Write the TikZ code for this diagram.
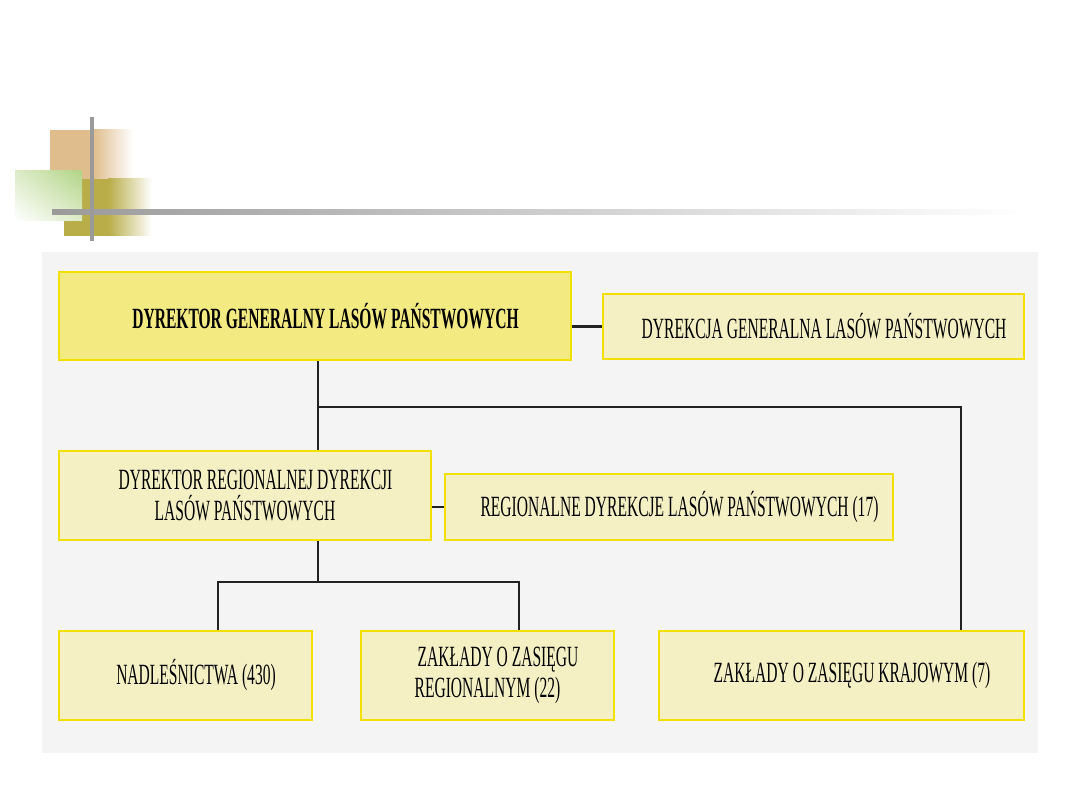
\documentclass[tikz,border=0pt]{standalone}
\usepackage{fontspec}
\newfontfamily\boxfont[FakeStretch=0.53]{Liberation Serif}
\usepackage{tikz}
\usetikzlibrary{positioning, shadings}

\definecolor{panelgray}{HTML}{F4F4F4}
\definecolor{boxyellow}{HTML}{F4EA82}
\definecolor{boxpale}{HTML}{F5F0C4}
\definecolor{boxedge}{HTML}{F2E000}
\definecolor{decotan}{HTML}{DFBD8C}
\definecolor{decogreen}{HTML}{B2D486}
\definecolor{decoolive}{HTML}{B8AD48}
\definecolor{decogray}{HTML}{9A9A9A}
\definecolor{linkgray}{HTML}{222222}

\begin{document}
\begin{tikzpicture}[x=0.01cm, y=-0.01cm,
    orgbox/.style={draw=boxedge, line width=0.6pt, fill=boxpale, inner sep=0pt,
      align=center, font=\boxfont\fontsize{8.35}{8.9}\selectfont,
      execute at begin node={\hspace*{0.21cm}}},
    topbox/.style={orgbox, fill=boxyellow, font=\boxfont\bfseries\fontsize{8.35}{8.9}\selectfont},
    link/.style={draw=linkgray, line width=0.6pt}]
    \useasboundingbox (0,0) rectangle (1080,810);

    % Slide decoration
    \fill[decotan] (50,130) rectangle (93,180);
    \shade[left color=decotan, right color=white] (93,130) rectangle (133,180);
    \fill[decoolive] (64,179) rectangle (108,236);
    \shade[left color=decoolive, right color=white] (108,179) rectangle (152,236);
    \shade[upper right=decogreen, lower left=white, upper left=decogreen!45!white,
      lower right=decogreen!45!white] (15,171) rectangle (82,221);
    \shade[left color=decogray, right color=white] (52,210) rectangle (1025,215);
    \fill[decogray] (90,117) rectangle (94,241);

    % Panel
    \fill[panelgray] (42,252) rectangle (1038,753);

    % Boxes
    \node[topbox, minimum width=5.12cm, minimum height=0.88cm] (dg) at (315,316)
      {DYREKTOR GENERALNY LASÓW PAŃSTWOWYCH};
    \node[orgbox, minimum width=4.21cm, minimum height=0.65cm] (dgl) at (813.5,326.5)
      {DYREKCJA GENERALNA LASÓW PAŃSTWOWYCH};
    \node[orgbox, minimum width=3.72cm, minimum height=0.89cm] (rd) at (245,495.5)
      {DYREKTOR REGIONALNEJ DYREKCJI\\\hspace*{-0.21cm}LASÓW PAŃSTWOWYCH};
    \node[orgbox, minimum width=4.48cm, minimum height=0.66cm] (rdl) at (669,507)
      {REGIONALNE DYREKCJE LASÓW PAŃSTWOWYCH (17)};
    \node[orgbox, minimum width=2.53cm, minimum height=0.89cm] (nadl) at (185.5,675.5)
      {NADLEŚNICTWA (430)};
    \node[orgbox, minimum width=2.53cm, minimum height=0.89cm] (zreg) at (487.5,675.5)
      {ZAKŁADY O ZASIĘGU\\\hspace*{-0.21cm}REGIONALNYM (22)};
    \node[orgbox, minimum width=3.65cm, minimum height=0.89cm] (zkraj) at (841.5,675.5)
      {ZAKŁADY O ZASIĘGU KRAJOWYM (7)};

    % Connectors
    \coordinate (trunk) at (318,407);
    \coordinate (kraj) at (961,407);
    \coordinate (split) at (318,582);
    \coordinate (splitl) at (218,582);
    \coordinate (splitr) at (519,582);

    \draw[link] (dgl.west -| dg.east) -- (dgl.west);
    \draw[link] (rdl.west -| rd.east) -- (rdl.west);
    \draw[link] (dg.south -| trunk) -- (rd.north -| trunk);
    \draw[link] (trunk) -- (kraj) -- (zkraj.north -| kraj);
    \draw[link] (rd.south -| split) -- (split);
    \draw[link] (nadl.north -| splitl) -- (splitl) -- (splitr) -- (zreg.north -| splitr);
\end{tikzpicture}
\end{document}
